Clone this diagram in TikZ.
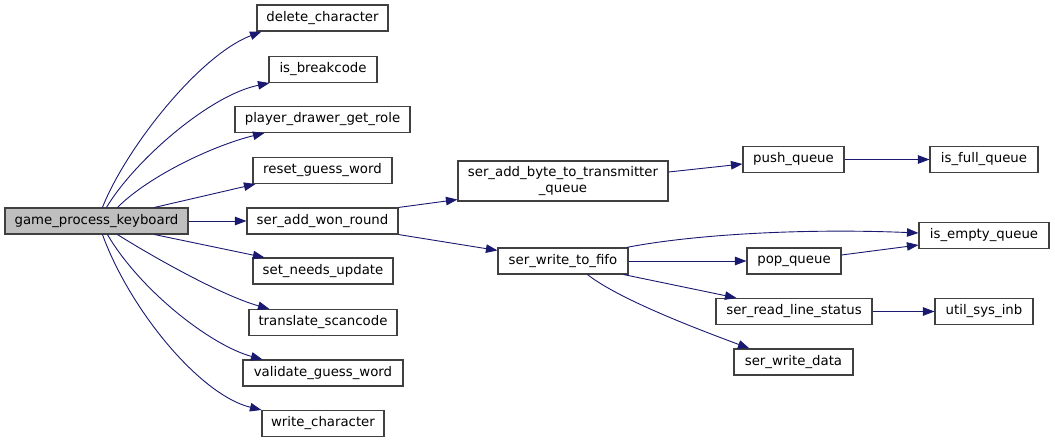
\documentclass[tikz,border=0pt]{standalone}
\usepackage{fontspec}
\setmainfont{DejaVu Sans}
\usetikzlibrary{arrows.meta,calc}
\definecolor{edgeblue}{HTML}{191970}
\definecolor{boxline}{HTML}{404040}
\definecolor{rootfill}{HTML}{BFBFBF}
\begin{document}
\begin{tikzpicture}[x=1pt,y=-1pt,
  box/.style={draw=boxline,line width=1.1pt,fill=white,inner sep=0pt,minimum height=26pt,
    font=\fontsize{13.3}{15.5}\selectfont,align=center},
  root/.style={box,fill=rootfill},
  edge/.style={draw=edgeblue,line width=0.9pt,-{Triangle[length=11.5pt,width=8.5pt]}}]
\useasboundingbox (0,0) rectangle (1055,443);
% nodes
\node[root,minimum width=183pt] (gpk) at (96.5,221) {game\_process\_keyboard};
\node[box,minimum width=131pt] (dc) at (322.5,18) {delete\_character};
\node[box,minimum width=108pt] (ib) at (323,69.5) {is\_breakcode};
\node[box,minimum width=175pt] (pdgr) at (322.5,119.5) {player\_drawer\_get\_role};
\node[box,minimum width=139pt] (rgw) at (322.5,170.5) {reset\_guess\_word};
\node[box,minimum width=151pt] (sawr) at (322.5,221) {ser\_add\_won\_round};
\node[box,minimum width=140pt] (snu) at (323,271) {set\_needs\_update};
\node[box,minimum width=148pt] (ts) at (323,322.5) {translate\_scancode};
\node[box,minimum width=160pt] (vgw) at (323,373) {validate\_guess\_word};
\node[box,minimum width=122pt] (wc) at (323,423.5) {write\_character};
\node[box,minimum width=210pt,minimum height=40pt] (sabtq) at (563,181) {ser\_add\_byte\_to\_transmitter\\\_queue};
\node[box,minimum width=130pt] (swtf) at (563,261) {ser\_write\_to\_fifo};
\node[box,minimum width=101pt] (pq) at (793.5,159.5) {push\_queue};
\node[box,minimum width=108pt] (ifq) at (984,159.5) {is\_full\_queue};
\node[box,minimum width=130pt] (ieq) at (984,235.5) {is\_empty\_queue};
\node[box,minimum width=94pt] (popq) at (794,261) {pop\_queue};
\node[box,minimum width=156pt] (srls) at (794,311.5) {ser\_read\_line\_status};
\node[box,minimum width=98pt] (usi) at (984,311.5) {util\_sys\_inb};
\node[box,minimum width=119pt] (swd) at (793.5,362) {ser\_write\_data};
% edges from game_process_keyboard
\draw[edge] ([xshift=98pt]gpk.north west) .. controls (125,150) and (198,56) .. ([xshift=5pt]dc.south west);
\draw[edge] ([xshift=102pt]gpk.north west) .. controls (135,160) and (210,95) .. ([xshift=1pt]ib.south west);
\draw[edge] ([xshift=113pt]gpk.north west) .. controls (150,175) and (215,145) .. ([xshift=30pt]pdgr.south west);
\draw[edge] ([xshift=150pt]gpk.north west) -- ([xshift=3pt]rgw.south west);
\draw[edge] (gpk.east) -- (sawr.west);
\draw[edge] ([xshift=150pt]gpk.south west) -- ([xshift=12pt]snu.north west);
\draw[edge] ([xshift=113pt]gpk.south west) .. controls (150,255) and (220,295) .. ([xshift=21pt]ts.north west);
\draw[edge] ([xshift=103pt]gpk.south west) .. controls (140,290) and (210,345) .. ([xshift=20pt]vgw.north west);
\draw[edge] ([xshift=98pt]gpk.south west) .. controls (130,310) and (200,395) .. (wc.north west);
% second level
\draw[edge] (sawr.north east) -- ([yshift=2pt]sabtq.south west);
\draw[edge] (sawr.south east) -- ([yshift=-3pt]swtf.north west);
\draw[edge] ([yshift=9pt]sabtq.east) -- ([yshift=-4.5pt]pq.west);
\draw[edge] (pq.east) -- (ifq.west);
\draw[edge] ([xshift=-2pt]swtf.north east) .. controls (690,235) and (800,228) .. ([yshift=2.5pt]ieq.west);
\draw[edge] (swtf.east) -- (popq.west);
\draw[edge] ([yshift=6pt]popq.east) -- ([yshift=-9.5pt]ieq.west);
\draw[edge] ([xshift=-5pt]swtf.south east) -- ([xshift=21pt]srls.north west);
\draw[edge] ([xshift=90pt]swtf.south west) .. controls (620,300) and (700,330) .. ([xshift=16pt]swd.north west);
\draw[edge] (srls.east) -- (usi.west);
\end{tikzpicture}
\end{document}
